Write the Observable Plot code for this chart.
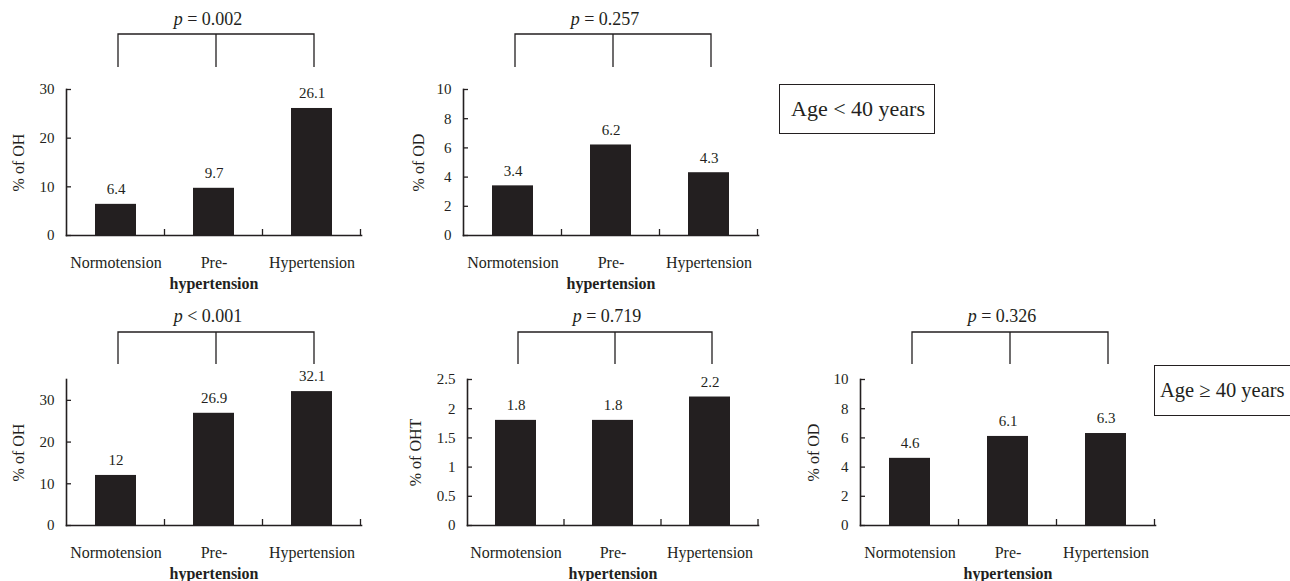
<!DOCTYPE html>
<html><head><meta charset="utf-8">
<script src="https://cdn.jsdelivr.net/npm/d3@7"></script>
<script src="https://cdn.jsdelivr.net/npm/@observablehq/plot@0.6"></script>
<style>
body{margin:0;background:#fff;}
#wrap{position:relative;width:1290px;height:581px;overflow:hidden;font-family:"Liberation Serif",serif;color:#231f20;background:#fff;}
.panel{position:absolute;}
.panel svg{overflow:visible;}
.agebox{position:absolute;box-sizing:border-box;border:1.5px solid #231f20;display:flex;align-items:center;white-space:nowrap;font-family:"Liberation Serif",serif;color:#231f20;}
</style></head><body><div id="wrap"></div>
<script>
// ---- data ----
const categories = ["Normotension", "Pre-hypertension", "Hypertension"];
const tickLine1 = ["Normotension", "Pre-", "Hypertension"];
const tickLine2 = ["", "hypertension", ""];
const ohUnder40 = [6.4, 9.7, 26.1];
const odUnder40 = [3.4, 6.2, 4.3];
const ohOver40 = [12, 26.9, 32.1];
const ohtOver40 = [1.8, 1.8, 2.2];
const odOver40 = [4.6, 6.1, 6.3];
const seriesList = [ohUnder40, odUnder40, ohOver40, ohtOver40, odOver40];
const yTitles = ["% of OH", "% of OD", "% of OH", "% of OHT", "% of OD"];
const pTexts = ["= 0.002", "= 0.257", "< 0.001", "= 0.719", "= 0.326"];
const yDomains = [[0, 30], [0, 10], [0, 35], [0, 2.5], [0, 10]];
const yTickValues = [[0, 10, 20, 30], [0, 2, 4, 6, 8, 10], [0, 10, 20, 30], [0, 0.5, 1, 1.5, 2, 2.5], [0, 2, 4, 6, 8, 10]];
const ageLabels = ["Age < 40 years", "Age \u2265 40 years"];

// ---- layout (page pixels) ----
const INK = "#231f20";
const ML = 70, MR = 10, MT = 89, FH = 146, MB = 55;
const layout = [
  {frameLeft: 66,  top: 0,   fw: 295, titleOff: 48, bTop: 55, bBot: 22, pOff: 68},
  {frameLeft: 463, top: 0,   fw: 295, titleOff: 45, bTop: 55, bBot: 22, pOff: 68},
  {frameLeft: 66,  top: 290, fw: 295, titleOff: 48, bTop: 47, bBot: 15, pOff: 61},
  {frameLeft: 467, top: 290, fw: 291, titleOff: 52, bTop: 47, bBot: 15, pOff: 61},
  {frameLeft: 860, top: 290, fw: 295, titleOff: 47, bTop: 47, bBot: 15, pOff: 61}
];
const ageBoxes = [
  {left: 779, top: 84, width: 156, height: 50, pad: "0 0 0 11px", fs: 22},
  {left: 1154, top: 365, width: 160, height: 51, pad: "0 0 0 5px", fs: 20.5}
];

const wrap = document.getElementById("wrap");

seriesList.forEach((vals, k) => {
  const L = layout[k];
  const data = categories.map((c, i) => ({cat: c, value: vals[i], l1: tickLine1[i], l2: tickLine2[i]}));
  const plot = Plot.plot({
    width: ML + L.fw + MR,
    height: MT + FH + MB,
    marginLeft: ML, marginRight: MR, marginTop: MT, marginBottom: MB,
    style: {fontFamily: "Liberation Serif", fontSize: "15px", color: INK, background: "transparent", overflow: "visible"},
    x: {domain: categories, paddingInner: 0.58, paddingOuter: 0.29, axis: null},
    y: {domain: yDomains[k], axis: null},
    marks: [
      Plot.barY(data, {x: "cat", y: "value", fill: INK}),
      Plot.text(data, {x: "cat", y: "value", text: d => String(d.value), dy: -15, lineAnchor: "middle", fontSize: 15, fill: INK}),
      Plot.axisY({ticks: yTickValues[k], tickFormat: d => String(d), tickSize: 0, tickPadding: 12, label: null, fontSize: 15, fill: INK}),
      Plot.ruleY(yTickValues[k], {y: d => d, insetRight: L.fw - 5, stroke: INK, strokeWidth: 1.3}),
      Plot.frame({anchor: "left", stroke: INK, strokeWidth: 1.6}),
      Plot.frame({anchor: "bottom", stroke: INK, strokeWidth: 1.6}),
      Plot.text(data, {x: "cat", frameAnchor: "bottom", text: "l1", dy: 27, lineAnchor: "middle", fontSize: 16, fill: INK}),
      Plot.text(data, {x: "cat", frameAnchor: "bottom", text: "l2", dy: 48, lineAnchor: "middle", fontSize: 16, fontWeight: 600, fill: INK}),
      Plot.text([yTitles[k]], {frameAnchor: "middle", text: d => d, rotate: -90, dx: -(L.fw / 2 + L.titleOff), textAnchor: "middle", lineAnchor: "middle", fontSize: 16, fill: INK})
    ]
  });

  // decorations using the plot's own x scale
  const xs = plot.scale("x");
  const centers = categories.map(c => xs.apply(c) + xs.bandwidth / 2);
  const step = xs.step;
  const svg = d3.select(plot);
  const axisY = MT + FH;
  // band boundary ticks on the x axis (pointing up)
  centers.forEach(cx => {
    svg.append("line").attr("x1", cx + step / 2).attr("x2", cx + step / 2)
      .attr("y1", axisY).attr("y2", axisY - 6).attr("stroke", INK).attr("stroke-width", 1.3);
  });
  // bracket
  const bx = centers.map(c => c + 2.5);
  const yT = MT - L.bTop, yB = MT - L.bBot;
  svg.append("path")
    .attr("d", `M${bx[0]},${yB}V${yT}H${bx[2]}V${yB}M${bx[1]},${yT}V${yB}`)
    .attr("fill", "none").attr("stroke", INK).attr("stroke-width", 1.3);
  // p label
  const t = svg.append("text").attr("x", bx[1] - 8).attr("y", MT - L.pOff)
    .attr("text-anchor", "middle").attr("dominant-baseline", "middle")
    .attr("font-family", "Liberation Serif").attr("font-size", 18).attr("fill", INK);
  t.append("tspan").attr("font-style", "italic").text("p");
  t.append("tspan").text(" " + pTexts[k]);

  const div = document.createElement("div");
  div.className = "panel";
  div.style.left = (L.frameLeft - ML) + "px";
  div.style.top = L.top + "px";
  div.appendChild(plot);
  wrap.appendChild(div);
});

ageLabels.forEach((lab, i) => {
  const b = ageBoxes[i];
  const d = document.createElement("div");
  d.className = "agebox";
  d.style.left = b.left + "px"; d.style.top = b.top + "px";
  d.style.width = b.width + "px"; d.style.height = b.height + "px";
  d.style.padding = b.pad;
  d.style.fontSize = b.fs + "px";
  d.textContent = lab;
  wrap.appendChild(d);
});
</script>
</body></html>
